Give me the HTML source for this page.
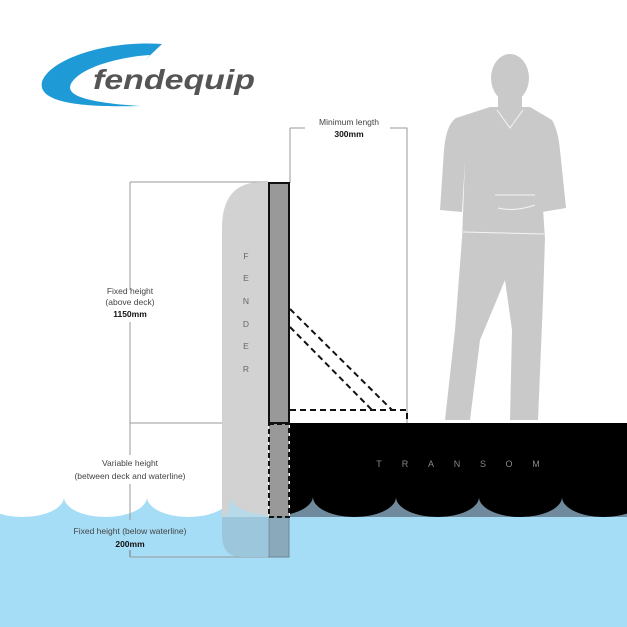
<!DOCTYPE html>
<html><head><meta charset="utf-8"><style>
body{margin:0;background:#fff}
svg{display:block;font-family:"Liberation Sans",sans-serif}
</style></head><body>
<svg width="627" height="627" viewBox="0 0 627 627">
<rect width="627" height="627" fill="#fff"/>
<!-- logo -->
<path d="M162 44 C110 40 50 58 42 82 C38 100 70 108 140 106 C80 102 64 94 72 82 C85 64 130 56 150 55 L143 62 Z" fill="#1e9ad6"/>
<text x="93" y="89" font-size="28" font-weight="bold" font-style="italic" fill="#555" textLength="162" lengthAdjust="spacingAndGlyphs">fendequip</text>
<!-- person -->
<g fill="#c9c9c9">
<ellipse cx="510" cy="78" rx="19" ry="24"/>
<rect x="498" y="95" width="24" height="20"/>
<path d="M490 107 L530 107 L552 120 Q558 130 560 150 L566 208 L542 212 L540 160 L545 240 L462 240 L465 160 L462 212 L440 210 L444 150 Q446 125 456 118 Z"/>
<path d="M462 238 L545 238 L543 300 L538 420 L510 420 L512 330 L505 280 L480 340 L470 420 L445 420 L455 330 Z"/>
</g>
<g stroke="#fff" stroke-width="1" fill="none" opacity="0.8">
<path d="M497 110 L510 128 L523 110"/><path d="M463 232 L544 234"/><path d="M495 195 L535 195"/><path d="M498 208 Q515 212 535 205"/>
</g>
<!-- water base -->
<rect x="0" y="497" width="627" height="130" fill="#a6ddf6"/>
<path d="M-19 497 A41.5 20 0 0 0 64 497 A41.5 20 0 0 0 147 497 A41.5 20 0 0 0 230 497 A41.5 20 0 0 0 313 497 Z" fill="#fff"/>
<!-- guide lines -->
<g stroke="#999" stroke-width="1" fill="none">
<path d="M130 182 H268 M130 182 V290 M130 322 V423 M130 423 H290 M130 557 H270 M130 423 V455 M130 484 V520"/>
<path d="M290 128 H305 M390 128 H407 V423 M290 128 V183"/>
</g>
<text x="349" y="125" font-size="8.5" fill="#444" text-anchor="middle">Minimum length</text>
<text x="349" y="137" font-size="8.5" fill="#111" font-weight="bold" text-anchor="middle">300mm</text>
<text x="130" y="294" font-size="8.5" fill="#444" text-anchor="middle">Fixed height</text>
<text x="130" y="305" font-size="8.5" fill="#444" text-anchor="middle">(above deck)</text>
<text x="130" y="317" font-size="8.5" fill="#111" font-weight="bold" text-anchor="middle">1150mm</text>
<text x="130" y="466" font-size="8.5" fill="#444" text-anchor="middle">Variable height</text>
<text x="130" y="479" font-size="8.5" fill="#444" text-anchor="middle">(between deck and waterline)</text>
<!-- fender -->
<path d="M268 182 L268 517 L222 517 L222 228 Q222 182 262 182 Z" fill="#d2d2d2"/>
<path d="M222 517 A8 20 0 0 0 230 497 A41.5 20 0 0 0 268 515 L268 517 Z" fill="#a6ddf6" opacity="0.6"/>
<path d="M222 517 L268 517 L268 557 L242 557 Q222 557 222 535 Z" fill="#9cc6dc"/>
<g font-size="8.5" fill="#666" text-anchor="middle">
<text x="246" y="259">F</text><text x="246" y="281">E</text><text x="246" y="304">N</text><text x="246" y="327">D</text><text x="246" y="349">E</text><text x="246" y="372">R</text>
</g>
<!-- post -->
<rect x="269" y="183" width="20" height="334" fill="#999"/>
<rect x="269" y="517" width="20" height="40" fill="#8aa9bb" stroke="#6d8595"/>
<rect x="269" y="183" width="20" height="240" fill="none" stroke="#111" stroke-width="2"/>
<rect x="269" y="424" width="20" height="93" fill="none" stroke="#111" stroke-width="2" stroke-dasharray="5,3"/>
<!-- dashed brace -->
<g stroke="#111" stroke-width="2" fill="none" stroke-dasharray="6,4">
<path d="M290 309 L392 410 M290 327 L372 410 M290 410 H407 V423"/>
</g>
<!-- transom -->
<rect x="290" y="495" width="337" height="22" fill="#6f8a9c"/>
<path d="M290 423 H627 V497 L313 497 A41.5 20 0 0 1 290 514 Z" fill="#000"/>
<path d="M313 497 A41.5 20 0 0 0 396 497 A41.5 20 0 0 0 479 497 A41.5 20 0 0 0 562 497 A41.5 20 0 0 0 645 497 Z" fill="#000"/>
<g font-size="9" fill="#888" text-anchor="middle">
<text x="379" y="467">T</text><text x="405" y="467">R</text><text x="431" y="467">A</text><text x="457" y="467">N</text><text x="483" y="467">S</text><text x="509" y="467">O</text><text x="536" y="467">M</text>
</g>
<text x="130" y="534" font-size="8.5" fill="#444" text-anchor="middle">Fixed height (below waterline)</text>
<text x="130" y="547" font-size="8.5" fill="#111" font-weight="bold" text-anchor="middle">200mm</text>
<path d="M130 550 V557" stroke="#777"/>
</svg>
</body></html>
